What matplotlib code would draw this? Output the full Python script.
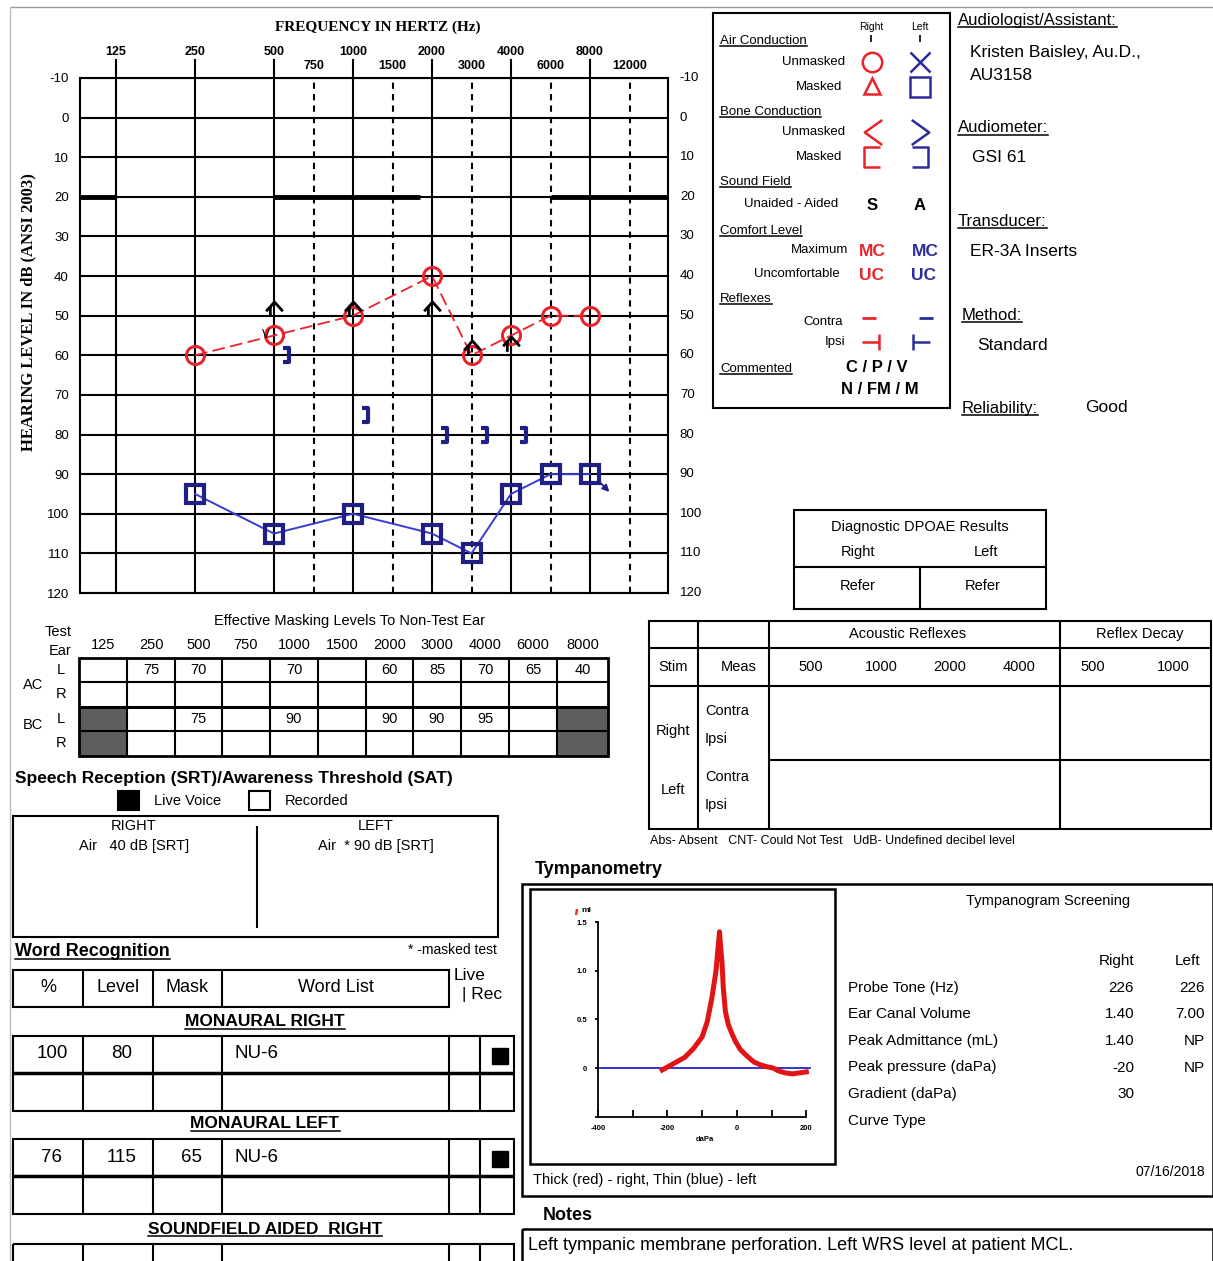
import matplotlib
import matplotlib.pyplot as plt
from matplotlib.path import Path
from matplotlib.patches import Rectangle
from matplotlib.transforms import ScaledTranslation

W, H = 1213, 1261
SANS = 'Liberation Sans'
SERIF = 'Liberation Serif'
RED = '#e8232b'
NAVY = '#1f1f86'
BLUE = '#3a3ad6'
LEG_BLUE = '#2c2c9c'

plt.rcParams['font.family'] = SANS

# ---- audiogram data ----
freq_pos = {125: 0, 250: 1, 500: 2, 750: 2.5, 1000: 3, 1500: 3.5,
            2000: 4, 3000: 4.5, 4000: 5, 6000: 5.5, 8000: 6, 12000: 6.5}
octave_freqs = [125, 250, 500, 1000, 2000, 4000, 8000]
half_freqs = [750, 1500, 3000, 6000, 12000]
db_ticks = list(range(-10, 121, 10))

right_ac_f = [250, 500, 1000, 2000, 3000, 4000, 6000, 8000]
right_ac_db = [60, 55, 50, 40, 60, 55, 50, 50]
left_acm_f = [250, 500, 1000, 2000, 3000, 4000, 6000, 8000]
left_acm_db = [95, 105, 100, 105, 110, 95, 90, 90]
left_bcm_f = [500, 1000, 2000, 3000, 4000]
left_bcm_db = [60, 75, 80, 80, 80]
vt_f = [500, 1000, 2000, 3000, 4000]
vt_db = [48, 48, 48, 58, 57]
band_segments = [(-0.46, 0), (2, 3.85), (5.5, 7.0)]   # thick 20 dB marks (freq index)

# ---- masking table ----
mask_freqs = ['125', '250', '500', '750', '1000', '1500', '2000', '3000', '4000', '6000', '8000']
mask_ac_left = ['', '75', '70', '', '70', '', '60', '85', '70', '65', '40']
mask_bc_left = ['', '', '75', '', '90', '', '90', '90', '95', '', '']

# ---- word recognition ----
wr_right = ['100', '80', '', 'NU-6']
wr_left = ['76', '115', '65', 'NU-6']

# ---- tympanogram ----
tymp_p = [-215, -190, -150, -125, -100, -85, -72, -60, -55, -50, -47, -43, -39, -33,
          -25, -15, -5, 10, 30, 50, 70, 90, 105, 120, 140, 160, 180, 200]
tymp_right = [-0.02, 0.03, 0.11, 0.2, 0.32, 0.48, 0.72, 1.0, 1.2, 1.4, 1.25, 1.1, 0.82, 0.58,
              0.45, 0.36, 0.28, 0.19, 0.12, 0.06, 0.03, 0.01, 0.0, -0.03, -0.05, -0.06, -0.05, -0.04]
tymp_left_p = [-395, 210]
tymp_left = [0, 0]
tymp_rows = ['Probe Tone (Hz)', 'Ear Canal Volume', 'Peak Admittance (mL)',
             'Peak pressure (daPa)', 'Gradient (daPa)', 'Curve Type']
tymp_r_vals = ['226', '1.40', '1.40', '-20', '30', '']
tymp_l_vals = ['226', '7.00', 'NP', 'NP', '', '']

fig = plt.figure(figsize=(W / 100, H / 100), dpi=100)
bg = fig.add_axes([0, 0, 1, 1])
bg.set_xlim(0, W)
bg.set_ylim(H, 0)
bg.axis('off')

underlined = []


def T(x, y, s, size=10, ha='left', va='center', **kw):
    return bg.text(x, y, s, fontsize=size, ha=ha, va=va, **kw)


def U(x, y, s, size=10, **kw):
    t = T(x, y, s, size, **kw)
    underlined.append(t)
    return t


def L(xs, ys, lw=1.5, c='black', **kw):
    bg.plot(xs, ys, color=c, lw=lw, solid_capstyle='butt', **kw)


def box(x0, y0, x1, y1, lw=1.5, ec='black', fc='none'):
    bg.add_patch(Rectangle((x0, y0), x1 - x0, y1 - y0, fill=(fc != 'none'),
                           fc=fc, lw=lw, ec=ec))


def sym(x, y, m, c, ms=14, mew=1.8):
    bg.plot([x], [y], marker=m, color=c, mfc='none', mec=c, ms=ms, mew=mew, ls='none')


M, LT = Path.MOVETO, Path.LINETO
br_open_right = Path([(0.6, 0.8), (-0.6, 0.8), (-0.6, -0.8), (0.6, -0.8)], [M, LT, LT, LT])
br_open_left = Path([(-0.6, 0.8), (0.6, 0.8), (0.6, -0.8), (-0.6, -0.8)], [M, LT, LT, LT])
br_tall = Path([(-0.45, 1), (0.45, 1), (0.45, -1), (-0.45, -1)], [M, LT, LT, LT])
lt_path = Path([(0.7, 1), (-0.7, 0), (0.7, -1)], [M, LT, LT])
gt_path = Path([(-0.7, 1), (0.7, 0), (-0.7, -1)], [M, LT, LT])
ipsi_r = Path([(-1, 0), (0.7, 0), (0.7, 0.8), (0.7, -0.8)], [M, LT, M, LT])
ipsi_l = Path([(1, 0), (-0.7, 0), (-0.7, 0.8), (-0.7, -0.8)], [M, LT, M, LT])
vt_path = Path([(-0.9, -0.3), (0, 0.7), (0.9, -0.3), (-0.45, 0.2), (-0.45, -0.9)],
               [M, LT, LT, M, LT])

# outer frame
L([10, W], [7, 7], lw=1, c='#999999')
L([10, 10], [7, H], lw=1, c='#bbbbbb')

# ================= AUDIOGRAM =================
ax = fig.add_axes([80 / W, 1 - 593 / H, 588 / W, 515 / H])
x_lo, x_hi = (80 - 116) / 79, (668 - 116) / 79
ax.set_xlim(x_lo, x_hi)
ax.set_ylim(120, -10)
ax.set_xticks([])
ax.set_yticks(db_ticks)
ax.set_yticklabels([str(d) for d in db_ticks], fontsize=9.5)
ax.tick_params(axis='y', length=0, pad=8)
for s in ax.spines.values():
    s.set_linewidth(1.5)
for d in db_ticks:
    ax.axhline(d, color='k', lw=1.5)
    ax.text(x_hi + 0.15, d, str(d), ha='left', va='center', fontsize=9.5, clip_on=False)
for f in octave_freqs:
    ax.plot([freq_pos[f]] * 2, [120, -14.5], color='k', lw=1.5, clip_on=False)
    ax.text(freq_pos[f], -16.6, str(f), ha='center', va='center', fontsize=9,
            fontweight='bold', clip_on=False)
for f in half_freqs:
    ax.plot([freq_pos[f]] * 2, [120, -10], color='k', lw=1.5, ls=(0, (3, 2.5)))
    ax.text(freq_pos[f], -13.1, str(f), ha='center', va='center', fontsize=9,
            fontweight='bold', clip_on=False)
for a, b in band_segments:
    ax.plot([a, b], [20, 20], color='k', lw=3.5, solid_capstyle='butt')

ax.plot([freq_pos[f] for f in right_ac_f], right_ac_db, color=RED, lw=1.3,
        ls=(0, (7, 3)), marker='o', ms=13, mfc='none', mew=2.2)
ax.plot([freq_pos[f] for f in left_acm_f], left_acm_db, color=BLUE, lw=1.4)
ax.plot([freq_pos[f] for f in left_acm_f], left_acm_db, ls='none', marker='s', ms=12.5,
        mfc='none', mec=NAVY, mew=3)
shift = ax.transData + ScaledTranslation(12 / 100, 0, fig.dpi_scale_trans)
ax.plot([freq_pos[f] for f in left_bcm_f], left_bcm_db, ls='none', marker=br_tall, ms=10,
        mfc='none', mec=NAVY, mew=3, transform=shift)
ax.plot([freq_pos[f] for f in vt_f], vt_db, ls='none', marker=vt_path, ms=12,
        mfc='none', mec='black', mew=2)
ax.annotate('V', xy=(freq_pos[500], 55), xytext=(-6, 0), textcoords='offset points',
            ha='center', va='center', fontsize=8.5)
ax.annotate('', xy=(freq_pos[8000] + 0.27, 95), xytext=(freq_pos[8000] + 0.1, 91.5),
            arrowprops=dict(arrowstyle='-|>', color=NAVY, lw=1.3, mutation_scale=10))

T(378, 27, 'FREQUENCY IN HERTZ (Hz)', 11, ha='center', family=SERIF, fontweight='bold')
T(28, 312, 'HEARING LEVEL IN dB (ANSI 2003)', 12, ha='center', rotation=90,
  family=SERIF, fontweight='bold')

# ================= SYMBOL LEGEND =================
box(713, 13, 950, 408)
T(871, 27, 'Right', 7.5, ha='center')
T(920, 27, 'Left', 7.5, ha='center')
L([871, 871], [35, 42], lw=1.2)
L([920, 920], [35, 42], lw=1.2)
U(720, 41, 'Air Conduction', 9.5)
T(845, 62, 'Unmasked', 9.5, ha='right')
sym(872, 62, 'o', RED, ms=14)
sym(920, 62, 'x', LEG_BLUE, ms=15)
T(842, 87, 'Masked', 9.5, ha='right')
sym(872, 86, '^', RED, ms=12)
sym(920, 87, 's', LEG_BLUE, ms=15)
U(720, 112, 'Bone Conduction', 9.5)
T(845, 132, 'Unmasked', 9.5, ha='right')
sym(873, 132, lt_path, RED, ms=18)
sym(920, 132, gt_path, LEG_BLUE, ms=18)
T(842, 157, 'Masked', 9.5, ha='right')
sym(872, 157, br_open_right, RED, ms=15)
sym(920, 157, br_open_left, LEG_BLUE, ms=15)
U(720, 182, 'Sound Field', 9.5)
T(838, 204, 'Unaided - Aided', 9.5, ha='right')
T(872, 206, 'S', 12, ha='center', fontweight='bold')
T(920, 206, 'A', 12, ha='center', fontweight='bold')
U(720, 231, 'Comfort Level', 9.5)
T(848, 250, 'Maximum', 9.5, ha='right')
T(872, 251, 'MC', 12.5, ha='center', color=RED, fontweight='bold')
T(925, 251, 'MC', 12.5, ha='center', color=LEG_BLUE, fontweight='bold')
T(840, 274, 'Uncomfortable', 9.5, ha='right')
T(872, 276, 'UC', 12.5, ha='center', color=RED, fontweight='bold')
T(923, 276, 'UC', 12.5, ha='center', color=LEG_BLUE, fontweight='bold')
U(720, 299, 'Reflexes', 9.5)
T(843, 322, 'Contra', 9.5, ha='right')
sym(869, 318, '_', RED, ms=10, mew=2)
sym(926, 318, '_', LEG_BLUE, ms=10, mew=2)
T(845, 342, 'Ipsi', 9.5, ha='right')
sym(872, 342, ipsi_r, RED, ms=14)
sym(920, 342, ipsi_l, LEG_BLUE, ms=14)
U(720, 369, 'Commented', 9.5)
T(877, 367, 'C / P / V', 12, ha='center', fontweight='bold')
T(880, 389, 'N / FM / M', 12, ha='center', fontweight='bold')

# ================= INFO =================
U(958, 20, 'Audiologist/Assistant:', 12)
T(970, 53, 'Kristen Baisley, Au.D.,', 12.5)
T(970, 75, 'AU3158', 12.5)
U(958, 128, 'Audiometer:', 12)
T(972, 158, 'GSI 61', 12.5)
U(958, 221, 'Transducer:', 12)
T(970, 252, 'ER-3A Inserts', 12.5)
U(962, 315, 'Method:', 12)
T(977, 346, 'Standard', 12.5)
U(962, 408, 'Reliability:', 12)
T(1085, 408, 'Good', 12.5)

# ================= DPOAE =================
box(794, 510, 1046, 609)
T(920, 527, 'Diagnostic DPOAE Results', 10.5, ha='center')
T(858, 552, 'Right', 10.5, ha='center')
T(986, 552, 'Left', 10.5, ha='center')
L([794, 1046], [567, 567])
L([920, 920], [567, 609])
T(858, 586, 'Refer', 10.5, ha='center')
T(983, 586, 'Refer', 10.5, ha='center')

# ================= ACOUSTIC REFLEXES =================
box(649, 621, 1211, 829)
L([649, 1211], [648, 648])
L([649, 1211], [686, 686])
L([769, 1211], [760, 760])
for xv in [698, 769, 1060]:
    L([xv, xv], [621, 829])
T(908, 634, 'Acoustic Reflexes', 10.5, ha='center')
T(1140, 634, 'Reflex Decay', 10.5, ha='center')
T(673, 667, 'Stim', 10.5, ha='center')
T(739, 667, 'Meas', 10.5, ha='center')
for xv, s in zip([811, 881, 950, 1019, 1093, 1173], ['500', '1000', '2000', '4000', '500', '1000']):
    T(xv, 667, s, 10.5, ha='center')
T(673, 731, 'Right', 10.5, ha='center')
T(705, 711, 'Contra', 10.5)
T(705, 739, 'Ipsi', 10.5)
T(673, 790, 'Left', 10.5, ha='center')
T(705, 777, 'Contra', 10.5)
T(705, 805, 'Ipsi', 10.5)
T(650, 841, 'Abs- Absent   CNT- Could Not Test   UdB- Undefined decibel level', 9)

# ================= MASKING TABLE =================
col_x = [79, 127, 175, 222, 270, 318, 366, 413, 461, 509, 557, 608]
row_y = [658, 682, 707, 731, 756]
T(350, 621, 'Effective Masking Levels To Non-Test Ear', 10.5, ha='center')
T(58, 632, 'Test', 10.5, ha='center')
T(60, 651, 'Ear', 10.5, ha='center')
for i, s in enumerate(mask_freqs):
    T((col_x[i] + col_x[i + 1]) / 2, 645, s, 10.5, ha='center')
for r in (2, 3):
    for ci in (0, 10):
        box(col_x[ci], row_y[r], col_x[ci + 1], row_y[r + 1], lw=0, fc='#5e5e5e')
box(79, 658, 608, 756, lw=2)
for yv in row_y[1:-1]:
    L([79, 608], [yv, yv], lw=2.2 if yv == 707 else 1.5)
for xv in col_x[1:-1]:
    L([xv, xv], [658, 756])
T(33, 685, 'AC', 10.5, ha='center')
T(33, 725, 'BC', 10.5, ha='center')
for yv, s in zip([670, 694, 719, 743], 'LRLR'):
    T(61, yv, s, 10.5, ha='center')
for i in range(11):
    T((col_x[i] + col_x[i + 1]) / 2, 670, mask_ac_left[i], 10.5, ha='center')
    T((col_x[i] + col_x[i + 1]) / 2, 719, mask_bc_left[i], 10.5, ha='center')

# ================= SPEECH =================
T(15, 778, 'Speech Reception (SRT)/Awareness Threshold (SAT)', 12.5, fontweight='bold')
box(118, 791, 139, 810, lw=1.5, fc='black')
T(154, 801, 'Live Voice', 10.5)
box(249, 791, 270, 810, lw=1.5)
T(285, 801, 'Recorded', 10.5)
box(13, 816, 498, 937)
L([257, 257], [826, 928])
T(134, 826, 'RIGHT', 10.5, ha='center')
T(134, 846, 'Air   40 dB [SRT]', 10.5, ha='center')
T(376, 826, 'LEFT', 10.5, ha='center')
T(376, 846, 'Air  * 90 dB [SRT]', 10.5, ha='center')

# ================= WORD RECOGNITION =================
U(15, 951, 'Word Recognition', 13, fontweight='bold')
T(497, 950, '* -masked test', 10, ha='right')
wcols = [13, 83, 153, 222, 449, 480, 514]
box(13, 970, 449, 1007)
for xv in wcols[1:4]:
    L([xv, xv], [970, 1007])
for i, s in enumerate(['%', 'Level', 'Mask', 'Word List']):
    T((wcols[i] + wcols[i + 1]) / 2, 988, s, 13, ha='center')
T(454, 975, 'Live', 12.5)
T(462, 995, '| Rec', 12.5)


def wr_table(y0, vals, title, ty):
    U(265, ty, title, 12.5, ha='center', fontweight='bold')
    if vals is None:
        box(13, y0, 514, H + 20)
        for xv in wcols[1:-1]:
            L([xv, xv], [y0, H + 20])
        return
    ym = y0 + 37
    box(13, y0, 514, y0 + 75)
    L([13, 514], [ym, ym], lw=2.5)
    for xv in wcols[1:-1]:
        L([xv, xv], [y0, y0 + 75])
    for i in range(3):
        T((wcols[i] + wcols[i + 1]) / 2 + 4, y0 + 18, vals[i], 13.5, ha='center')
    T(234, y0 + 18, vals[3], 13.5)
    box(492, y0 + 12, 508, y0 + 28, lw=1, fc='black')


wr_table(1036, wr_right, 'MONAURAL RIGHT', 1022)
wr_table(1139, wr_left, 'MONAURAL LEFT', 1124)
wr_table(1244, None, 'SOUNDFIELD AIDED  RIGHT', 1229)

# ================= TYMPANOMETRY =================
T(535, 870, 'Tympanometry', 13, fontweight='bold')
box(522, 884, 1213, 1196, lw=1.8)
box(530, 889, 835, 1164, lw=1.8)
tax = fig.add_axes([598 / W, 1 - 1116.7 / H, (811.5 - 598) / W, (1116.7 - 912.3) / H])
tax.set_xlim(-400, 215)
tax.set_ylim(-0.5, 1.6)
tax.patch.set_alpha(0)
for s in ['top', 'right']:
    tax.spines[s].set_visible(False)
tax.spines['left'].set_bounds(-0.5, 1.5)
tax.spines['bottom'].set_bounds(-400, 200)
tax.spines['left'].set_linewidth(1.3)
tax.spines['bottom'].set_linewidth(1.3)
tax.set_xticks(range(-400, 201, 100))
tax.set_xticklabels(['-400', '', '-200', '', '0', '', '200'], fontsize=5.5, fontweight='bold')
tax.set_yticks([-0.5, 0, 0.5, 1.0, 1.5])
tax.set_yticklabels(['', '0', '0.5', '1.0', '1.5'], fontsize=5.5, fontweight='bold')
tax.tick_params(axis='x', direction='in', length=5, width=1.3, pad=6)
tax.tick_params(axis='y', direction='out', length=2, width=1.3, pad=6)
tax.set_xlabel('daPa', fontsize=5.5, fontweight='bold', labelpad=3)
tax.plot(tymp_left_p, tymp_left, color='#2323d4', lw=1.3)
tax.plot(tymp_p, tymp_right, color='#e01414', lw=3.6, solid_joinstyle='round')
T(586, 910, 'ml', 6, ha='center', fontweight='bold')
L([577, 576], [909, 915], lw=1.6, c=RED)

T(1048, 901, 'Tympanogram Screening', 10.5, ha='center')
T(1134, 961, 'Right', 11, ha='right')
T(1200, 961, 'Left', 11, ha='right')
for i, s in enumerate(tymp_rows):
    yv = 988 + i * 26.5
    T(848, yv, s, 11)
    T(1134, yv, tymp_r_vals[i], 11, ha='right')
    T(1205, yv, tymp_l_vals[i], 11, ha='right')
T(1205, 1172, '07/16/2018', 10, ha='right')
T(533, 1180, 'Thick (red) - right, Thin (blue) - left', 10.5)

# ================= NOTES =================
T(543, 1215, 'Notes', 13, fontweight='bold')
box(522, 1229, 1213, H + 20, lw=1.8)
T(528, 1245, 'Left tympanic membrane perforation. Left WRS level at patient MCL.', 13)

# underlines
fig.canvas.draw()
inv = bg.transData.inverted()
for t in underlined:
    bb = t.get_window_extent()
    (x0, y0), (x1, _) = inv.transform([[bb.x0, bb.y0 + 1], [bb.x1, bb.y0 + 1]])
    bg.plot([x0, x1], [y0, y0], color=t.get_color(), lw=1.1)

fig.savefig('out.png', dpi=100)
